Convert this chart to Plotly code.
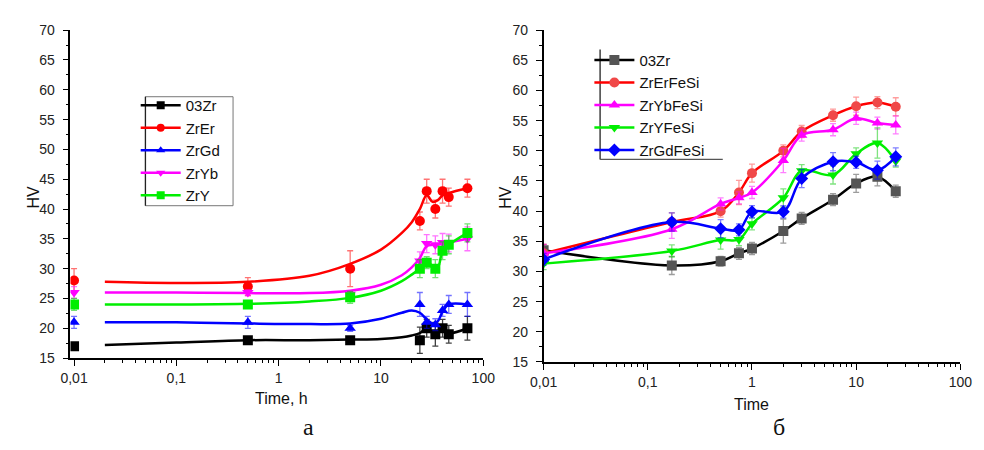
import plotly.graph_objects as go

# ---------------- Panel а (left) ----------------
t_a = [0.01, 0.5, 5, 24, 28, 34, 40, 46, 70]
a_03Zr = [17, 18, 18, 18, 20, 19, 20, 19, 20]
a_ZrEr = [28, 27, 30, 38, 43, 40, 43, 42, 43.5]
a_ZrGd = [21, 21, 20, 24, 21, 20.6, 23, 24, 24]
a_ZrYb = [26, 26, 25.7, 31.3, 34.2, 34, 34.4, 34.3, 35]
a_ZrY = [24, 24, 25.2, 30, 31, 30, 33, 34, 36]

e_03Zr = [0.5, 0.5, 0.5, 2.2, 1.5, 2, 1.5, 1.5, 2]
e_ZrEr = [2, 1.5, 3, 1.5, 2, 1.5, 2, 1.5, 1.5]
e_ZrGd = [1, 1, 0.5, 2, 1, 1, 1, 1.5, 2]
e_ZrYb = [1, 0.5, 0.5, 1.5, 1.5, 1.5, 1.5, 1.5, 2]
e_ZrY = [1, 0.5, 1, 1.5, 1, 1.5, 1.5, 1.5, 1.5]

# fitted curves
t_fit = [0.02, 0.1, 0.5, 2, 5, 10, 16, 20, 24, 28, 32, 36, 40, 46, 70]
f_03Zr = [17.2, 17.6, 18, 18, 18.1, 18.2, 18.5, 18.8, 19.2, 20, 19.3, 19.3, 20, 19.2, 20]
f_ZrEr = [27.8, 27.6, 27.8, 28.8, 30.8, 33.2, 36, 37.8, 40, 42.3, 41.2, 41.5, 42.3, 42.7, 43.5]
f_ZrGd = [21, 21, 20.8, 20.7, 20.8, 21.6, 22.6, 23, 22.6, 21.5, 20.8, 21.2, 22.8, 24, 24]
f_ZrYb = [26, 26, 25.9, 25.9, 26.3, 27.3, 28.9, 30.2, 31.8, 33.8, 34, 34, 34.2, 34.4, 35]
f_ZrY = [24, 24, 24.1, 24.5, 25.1, 26.3, 27.9, 29, 30, 31, 30.5, 30.3, 33, 34, 36]

names_a = ["03Zr", "ZrEr", "ZrGd", "ZrYb", "ZrY"]

# ---------------- Panel б (right) ----------------
t_b = [0.01, 0.17, 0.5, 0.75, 1, 2, 3, 6, 10, 16, 24]
b_03Zr = [33.5, 31, 31.7, 33, 33.8, 36.7, 38.8, 41.9, 44.6, 45.7, 43.3]
b_ZrErFeSi = [33, 38.2, 40, 43.1, 46.3, 50, 53.2, 55.9, 57.4, 58, 57.3]
b_ZrYbFeSi = [33, 37, 41.2, 42.2, 43.1, 48.4, 52.6, 53.5, 55.4, 54.6, 54.3]
b_ZrYFeSi = [31.3, 33.4, 35.2, 35.3, 37.9, 42.2, 46.7, 46, 49.5, 51.3, 48.3]
b_ZrGdFeSi = [32, 38.2, 37.1, 36.9, 39.9, 39.9, 45.4, 48.2, 48.1, 46.8, 49]

eb_03Zr = [1, 1.5, 0.8, 1, 1, 2, 1, 1, 1.5, 1.5, 1]
eb_ZrErFeSi = [1.5, 1.5, 1, 2, 1.5, 1, 1, 1, 1.5, 1, 1.5]
eb_ZrYbFeSi = [1.5, 1.5, 1, 1, 1, 2, 1, 1, 1, 1, 1.5]
eb_ZrYFeSi = [1, 1, 1.5, 1, 1, 1.5, 1, 1.5, 1, 2.5, 1]
eb_ZrGdFeSi = [1, 1.5, 1.5, 1, 1, 1, 1.5, 1.5, 1, 1.5, 1.5]

names_b = ["03Zr", "ZrErFeSi", "ZrYbFeSi", "ZrYFeSi", "ZrGdFeSi"]

tick_vals = [0.01, 0.1, 1, 10, 100]
tick_text = ["0,01", "0,1", "1", "10", "100"]

W, H = 984, 450


def px(x):
    return x / W


def py(y):
    return 1 - y / H


fig = go.Figure()

# left panel
cols_a = ["#000000", "#ff0000", "#0000ff", "#ff00ff", "#00ee00"]
ecols_a = ["rgba(0,0,0,0.75)", "rgba(255,0,0,0.55)", "rgba(0,0,255,0.55)",
           "rgba(255,0,255,0.55)", "rgba(0,200,0,0.55)"]
syms_a = ["square", "circle", "triangle-up", "triangle-down", "square"]
vals_a = [a_03Zr, a_ZrEr, a_ZrGd, a_ZrYb, a_ZrY]
errs_a = [e_03Zr, e_ZrEr, e_ZrGd, e_ZrYb, e_ZrY]
fits_a = [f_03Zr, f_ZrEr, f_ZrGd, f_ZrYb, f_ZrY]

for n, c, ec, s, v, e, f in zip(names_a, cols_a, ecols_a, syms_a, vals_a, errs_a, fits_a):
    fig.add_trace(go.Scatter(x=t_fit, y=f, mode="lines", line=dict(color=c, width=2.5, shape="spline"),
                             showlegend=False, xaxis="x", yaxis="y", hoverinfo="skip"))
    fig.add_trace(go.Scatter(x=t_a, y=v, mode="markers", marker=dict(color=c, symbol=s, size=10),
                             error_y=dict(type="data", array=e, color=ec, thickness=1.3, width=3),
                             showlegend=False, xaxis="x", yaxis="y"))
    fig.add_trace(go.Scatter(x=[None], y=[None], mode="lines+markers", name=n,
                             line=dict(color=c, width=2.5), marker=dict(color=c, symbol=s, size=8),
                             xaxis="x", yaxis="y", legend="legend"))

# right panel
cols_b = ["#000000", "#ff0000", "#ff00ff", "#00ee00", "#0000ff"]
mcols_b = ["#555555", "#f04848", "#ff00ff", "#00ee00", "#0000ff"]
ecols_b = ["rgba(90,90,90,0.6)", "rgba(255,60,60,0.5)", "rgba(255,0,255,0.5)",
           "rgba(0,200,0,0.5)", "rgba(0,0,255,0.5)"]
syms_b = ["square", "circle", "triangle-up", "triangle-down", "diamond"]
vals_b = [b_03Zr, b_ZrErFeSi, b_ZrYbFeSi, b_ZrYFeSi, b_ZrGdFeSi]
errs_b = [eb_03Zr, eb_ZrErFeSi, eb_ZrYbFeSi, eb_ZrYFeSi, eb_ZrGdFeSi]

for n, c, mc, ec, s, v, e in zip(names_b, cols_b, mcols_b, ecols_b, syms_b, vals_b, errs_b):
    fig.add_trace(go.Scatter(x=t_b, y=v, mode="lines+markers", name=n,
                             line=dict(color=c, width=2.5, shape="spline"),
                             marker=dict(color=mc, symbol=s, size=10),
                             error_y=dict(type="data", array=e, color=ec, thickness=1.3, width=3),
                             xaxis="x2", yaxis="y2", legend="legend2"))

minor_x = [m * 10 ** d for d in range(-2, 2) for m in range(2, 10)]

axis_font = dict(family="Liberation Sans, Arial, sans-serif", size=14, color="#222")

xcommon = dict(type="log", tickvals=tick_vals, ticktext=tick_text, showgrid=False, zeroline=False,
               showline=True, linecolor="#000", linewidth=1.5, ticklen=6, tickwidth=1.3,
               tickcolor="#000", tickfont=axis_font,
               minor=dict(tickvals=minor_x, ticklen=3, tickwidth=1, tickcolor="#000"))
ycommon = dict(range=[15, 70], dtick=5, showgrid=False, zeroline=False, showline=True,
               linecolor="#000", linewidth=1.5, ticks="outside", ticklen=6, tickwidth=1.3,
               tickcolor="#000", tickfont=axis_font, ticklabelstandoff=5,
               minor=dict(dtick=2.5, ticks="outside", ticklen=3, tickwidth=1, tickcolor="#000"))

leg_font = dict(family="Liberation Sans, Arial, sans-serif", size=15, color="#111")

fig.update_layout(
    width=W, height=H, margin=dict(l=0, r=0, t=0, b=0),
    paper_bgcolor="white", plot_bgcolor="white",
    xaxis=dict(xcommon, domain=[px(58), px(482)], range=[-2.035, 2], anchor="y", ticks="outside"),
    yaxis=dict(ycommon, domain=[py(363), py(23)], anchor="x"),
    xaxis2=dict(xcommon, domain=[px(544), px(972)], range=[-2, 2], anchor="y2", ticks="outside"),
    yaxis2=dict(ycommon, domain=[py(367), py(23)], anchor="x2"),
    legend=dict(x=px(125), y=py(84), xanchor="left", yanchor="top", bgcolor="rgba(0,0,0,0)",
                font=leg_font, itemwidth=40, tracegroupgap=0, borderwidth=0),
    legend2=dict(x=px(591), y=py(37), xanchor="left", yanchor="top", bgcolor="rgba(0,0,0,0)",
                 font=leg_font, itemwidth=40, tracegroupgap=0, borderwidth=0),
    showlegend=True,
)

# legend frames
fig.add_shape(type="rect", xref="paper", yref="paper", x0=px(135), x1=px(225), y0=py(205), y1=py(92),
              line=dict(color="#777", width=1))
fig.add_shape(type="line", xref="paper", yref="paper", x0=px(135), x1=px(135), y0=py(205), y1=py(92),
              line=dict(color="#222", width=1.3))
fig.add_shape(type="line", xref="paper", yref="paper", x0=px(602), x1=px(602), y0=py(157), y1=py(43),
              line=dict(color="#222", width=1.3))
fig.add_shape(type="line", xref="paper", yref="paper", x0=px(602), x1=px(728), y0=py(157), y1=py(157),
              line=dict(color="#555", width=1.3))

title_font = dict(family="Liberation Sans, Arial, sans-serif", size=16, color="#111")
serif_font = dict(family="Liberation Serif, Times New Roman, serif", size=24, color="#111")
ann = [
    dict(text="HV", x=px(20), y=py(196), textangle=-90, font=title_font),
    dict(text="Time, h", x=px(275), y=py(405), font=title_font),
    dict(text="HV", x=px(504), y=py(196), textangle=-90, font=title_font),
    dict(text="Time", x=px(758), y=py(411), font=title_font),
    dict(text="а", x=px(303), y=py(434), font=serif_font),
    dict(text="б", x=px(786), y=py(434), font=serif_font),
]
for a in ann:
    fig.add_annotation(xref="paper", yref="paper", showarrow=False, xanchor="center", yanchor="middle", **a)

fig.write_html("out.html")
